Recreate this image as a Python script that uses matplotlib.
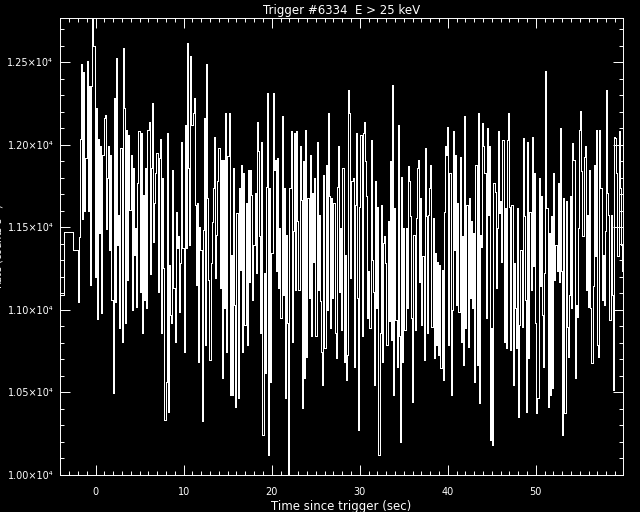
import matplotlib
matplotlib.use("Agg")
import matplotlib.pyplot as plt
import numpy as np
from matplotlib.ticker import MultipleLocator, FuncFormatter

# coarse pre-trigger bins (edges in sec, rate)
pre_edges = [-4.03, -3.58, -2.52]
pre_rate = [11090, 11473, 11364]

# fine resolution bins after -2.048 s
t_start = -2.048
bin_width = 0.128
rate = [
    11047, 11440, 12037, 12489, 11550, 12440, 11600, 11920, 12509, 11600,
    12354, 11152, 12354, 12772, 12600, 11202, 12222, 10946, 12037, 11465,
    11990, 10984, 11940, 12162, 12182, 11490, 11800, 11990, 11364, 11940,
    11061, 10495, 12283, 11050, 12525, 11394, 11576, 10889, 11980, 10808,
    12586, 12222, 10920, 12091, 11182, 12061, 11606, 11940, 11000, 11860,
    11334, 11495, 11020, 11768, 12081, 11111, 12071, 10859, 11697, 11061,
    11860, 11010, 12091, 12141, 11216, 11860, 12253, 11414, 11650,
    11830, 11950, 11111, 11920, 12037, 10859, 11800, 11253, 10334, 10566,
    12071, 10384, 11273, 10970, 10920, 11850, 11130, 10808, 11596, 11374,
    11445, 10990, 11283, 12020, 11374, 10748, 12121, 11374, 12616, 11860,
    11394, 12540, 12121, 12192, 12283, 11636, 11152, 11647, 10687, 11505,
    11364, 10324, 11485, 12162, 10788, 12491, 11677, 11182, 10697, 11283,
    11535, 11737, 12050, 11192, 11455, 11778, 11980, 11132, 11910, 10586,
    11910, 11010, 12192, 10748, 11930, 12192, 10485, 11334, 10485, 11860,
    11030, 10414, 11586, 10465, 11737, 11243, 11879, 10748, 11828, 10910,
    11646, 10788, 11849, 11172, 11849, 11697, 11061, 11394, 11707, 11223,
    12141, 11960, 11445, 10859, 12020, 10243, 11223, 10616, 11747, 12313,
    10121, 11737, 10566, 11344, 12313, 11849, 11910, 11233, 11920, 11132,
    11495, 10950, 12172, 11091, 11737, 10465, 11455, 10920, 10000, 11737,
    12081, 10808, 11475, 12071, 11122, 12081, 11536, 11122, 11990, 11667,
    10404, 11899, 10586, 12091, 10717, 11677, 11071, 11940, 10839, 11707,
    11293, 11798, 10839, 12020, 11122, 11576, 11051, 10748, 10546, 11818,
    10768, 11879, 11000, 12192, 11687, 10889, 11677, 11071, 11647, 10859,
    10707, 11747, 11990, 11111, 11495, 10879, 11859, 10687, 11334, 10576,
    10728, 12333, 12192, 11192, 11778, 11798, 10657, 11636, 12071, 11071,
    10273, 11626, 12061, 10839, 12071, 12141, 11899, 11687, 10950, 11233,
    10889, 12030, 11303, 11111, 10546, 11778, 11010, 11626, 10121, 10859,
    11636, 10687, 11404, 11445, 11283, 10788, 11536, 10930, 11899, 10819,
    12364, 10485, 11616, 10940, 10657, 12121, 10839, 10202, 11808, 10687,
    11495, 10879, 11495, 11010, 11869, 11778, 11566, 10950, 10445, 11455,
    10879, 11556, 11859, 11910, 11172, 11677, 10910, 11324, 10697, 11980,
    11566, 10859, 11576, 11737, 11879, 10899, 11556, 10707, 11344, 10788,
    11293, 10728, 11273, 10647, 11242, 10576, 11596, 11990, 11940, 12111,
    10788, 11829, 10485, 11000, 12081, 11364, 11940, 11030, 11646, 10990,
    11929, 10808, 11445, 10667, 12172, 10889, 11636, 10778, 11677, 11071,
    11536, 11010, 11465, 10566, 11879, 10667, 12192, 10435, 11455, 11384,
    12131, 11990, 11829, 10950, 12101, 11576, 11990, 10212, 10889, 10182,
    11768, 11717, 11132, 11495, 12081, 11586, 11657, 11293, 12030, 10808,
    11616, 10768, 12030, 12192, 11626, 10758, 11636, 10546, 11283, 11010,
    10768, 11616, 10354, 10909, 11364, 10899, 12040, 11566, 11061, 10384,
    12020, 10707, 11596, 11122, 12050, 11263, 11829, 10920, 10374, 10465,
    11798, 11142, 11687, 10970, 10657, 11223, 12445, 11616, 10414, 11465,
    10485, 11566, 10526, 11829, 11182, 11394, 11233, 11768, 11172, 12101,
    11233, 10243, 11677, 10374, 11657, 10899, 10717, 11091, 11687, 11010,
    12010, 11909, 10586, 11030, 10960, 11495, 12091, 12202, 11839, 11445,
    11929, 11990, 11122, 11576, 11020, 11849, 11010, 10677, 11142, 11879,
    11324, 12091, 10788, 10717, 12091, 11737, 11061, 11334, 11030, 11475,
    12333, 11707, 11576, 10940, 11576, 11091, 10515, 12050, 12040, 11829,
    11324, 12081, 11737, 11394, 11233, 11737,
]

fig = plt.figure(figsize=(6.4, 5.12), dpi=100, facecolor="black")
ax = fig.add_axes([0.094, 0.0723, 0.879, 0.8931])
ax.set_facecolor("black")

edges = np.concatenate([pre_edges, t_start + bin_width * np.arange(len(rate) + 1)])
vals = np.concatenate([pre_rate, rate])
ax.stairs(vals, edges, color="white", lw=0.6, baseline=None, antialiased=False)

ax.set_xlim(-4.03, 59.87)
ax.set_ylim(10000, 12770)

ax.xaxis.set_major_locator(MultipleLocator(10))
ax.xaxis.set_minor_locator(MultipleLocator(1))
ax.yaxis.set_major_locator(MultipleLocator(500))
ax.yaxis.set_minor_locator(MultipleLocator(100))
ax.yaxis.set_major_formatter(FuncFormatter(lambda v, p: "%.2f\u00d710\u2074" % (v / 1e4)))

ax.tick_params(which="both", direction="in", top=True, right=True,
               colors="white", labelcolor="white", width=0.7)
ax.tick_params(which="major", length=7.2, labelsize=7)
ax.tick_params(axis="x", which="major", pad=9)
ax.tick_params(axis="y", which="major", pad=5)
ax.tick_params(which="minor", length=3)
for s in ax.spines.values():
    s.set_color("white")
    s.set_linewidth(0.7)

ax.set_title("Trigger #6334  E > 25 keV", color="white", fontsize=8.5, pad=3)
ax.set_xlabel("Time since trigger (sec)", color="white", fontsize=8.5, labelpad=2)
fig.text(-0.002, 0.52, "Rate (counts s$^{-1}$)", color="white", fontsize=7,
         rotation=90, ha="center", va="center")

fig.savefig("out.png", dpi=100, facecolor="black")
